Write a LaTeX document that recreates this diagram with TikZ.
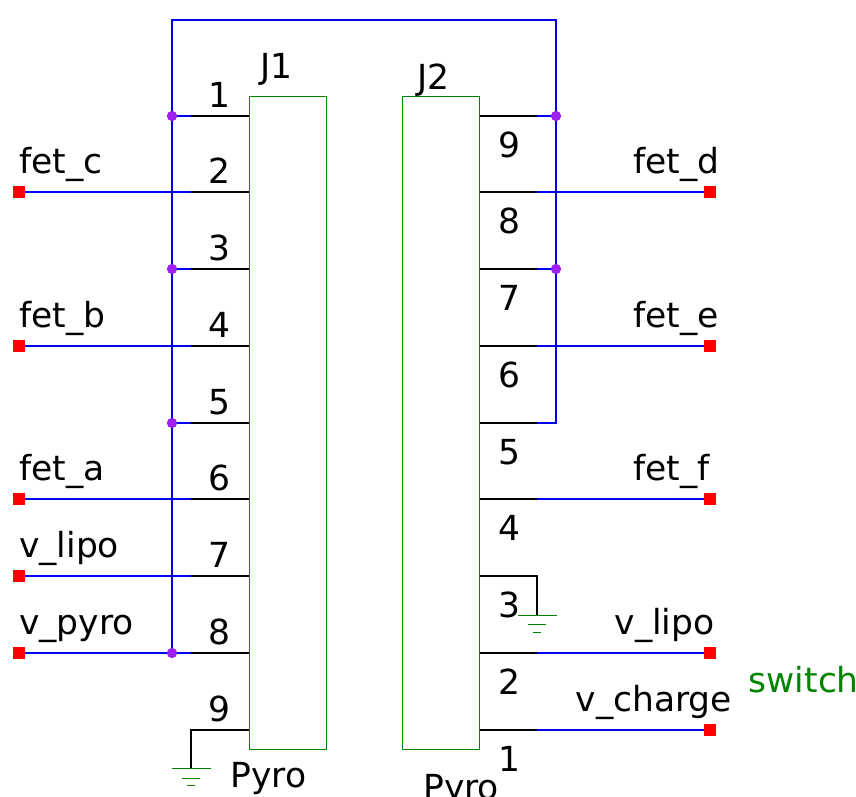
\documentclass[tikz,border=0pt]{standalone}
\usepackage{fontspec}
\setmainfont{DejaVu Sans}
\definecolor{netblue}{RGB}{0,0,245}
\definecolor{partgreen}{RGB}{0,132,0}
\definecolor{dotpurple}{RGB}{160,32,240}
\tikzset{
	conn/.style={draw=partgreen, line width=1pt, inner sep=0pt, minimum width=77pt, minimum height=653pt},
	term/.style={fill=red, inner sep=0pt, minimum size=12pt},
	dot/.style={circle, fill=dotpurple, inner sep=0pt, minimum size=10pt},
	txt/.style={anchor=base west, inner sep=0pt, font=\fontsize{34.5}{40}\selectfont},
	num/.style={anchor=center, inner sep=0pt, font=\fontsize{34.5}{40}\selectfont},
	net/.style={netblue, line width=2pt},
	pin/.style={black, line width=2pt},
	gnd/.style={partgreen, line width=1pt}
}
\begin{document}
\begin{tikzpicture}[x=1pt,y=-1pt]
	\useasboundingbox (0,0) rectangle (856,797);
	\node[conn] (J1) at (287.5,423) {};
	\node[conn] (J2) at (441,423) {};
	\node[txt] (J1name) at (260,79) {J1};
	\node[txt] (J2name) at (417.5,90) {J2};
	\node[txt] (J1val) at (230.5,787) {Pyro};
	\node[txt] (J2val) at (423,799) {Pyro};
	\node[txt, text=partgreen] (sw) at (748.5,692) {switch};

	% pin ends on both connectors
	\foreach \n/\y/\r in {1/116/9, 2/192/8, 3/269/7, 4/346/6, 5/423/5, 6/499/4, 7/576/3, 8/653/2, 9/730/1}
	{	\coordinate (a\n) at (249,\y);
		\coordinate (ak\n) at (191,\y);
		\coordinate (b\r) at (480,\y);
		\coordinate (bk\r) at (537,\y);
		\node[num] (an\n) at (219.7,\y-21) {\n};
		\node[num] (bn\r) at (509,\y+29) {\r};
	}

	% the two rails
	\coordinate (tl) at (172,20);
	\coordinate (tr) at (556,20);
	\node[dot] (d1) at (172,116) {};
	\node[dot] (d3) at (172,269) {};
	\node[dot] (d5) at (172,423) {};
	\node[dot] (d8) at (172,653) {};
	\node[dot] (e9) at (556,116) {};
	\node[dot] (e7) at (556,269) {};
	\coordinate (e5) at (556,423);
	\draw[net] (d8.center) -- (tl) -- (tr) -- (e5) -- (bk5);
	\foreach \u\v in {d1/ak1, d3/ak3, d5/ak5, e9/bk9, e7/bk7}
	{	\draw[net] (\u.center) -- (\v);
	}

	% terminals with their net names
	\foreach \t/\x/\y/\k/\lx/\lab in {tc/19/192/ak2/19/fet\_c, tb/19/346/ak4/19/fet\_b, ta/19/499/ak6/19/fet\_a, tl7/19/576/ak7/19/v\_lipo, tp/19/653/ak8/19/v\_pyro,
	td/710/192/bk8/633/fet\_d, te/710/346/bk6/633/fet\_e, tf/710/499/bk4/633/fet\_f, tl2/710/653/bk2/614.5/v\_lipo, tv/710/730/bk1/575.5/v\_charge}
	{	\node[term] (\t) at (\x,\y) {};
		\draw[net] (\t) -- (\k);
		\node[txt] (\t name) at (\lx,\y-18.5) {\lab};
	}

	\foreach \u\v in {ak1/a1, ak2/a2, ak3/a3, ak4/a4, ak5/a5, ak6/a6, ak7/a7, ak8/a8, b9/bk9, b8/bk8, b7/bk7, b6/bk6, b5/bk5, b4/bk4, b2/bk2, b1/bk1}
	{	\draw[pin] (\u) -- (\v);
	}

	% grounds
	\coordinate (g1) at (191,768.5);
	\coordinate (g2) at (537,615);
	\draw[pin] (a9) -- (ak9) -- (g1);
	\draw[pin] (b3) -- (bk3) -- (g2);
	\foreach \g in {g1,g2}
	{	\draw[gnd] ([xshift=-19.5pt]\g) -- ([xshift=19.5pt]\g);
		\draw[gnd] ([xshift=-9pt,yshift=-9.5pt]\g) -- ([xshift=9pt,yshift=-9.5pt]\g);
		\draw[gnd] ([xshift=-4pt,yshift=-17pt]\g) -- ([xshift=4pt,yshift=-17pt]\g);
	}
	\foreach \d in {d1,d3,d5,d8,e9,e7}
	{	\node[dot] at (\d) {};
	}
\end{tikzpicture}
\end{document}
